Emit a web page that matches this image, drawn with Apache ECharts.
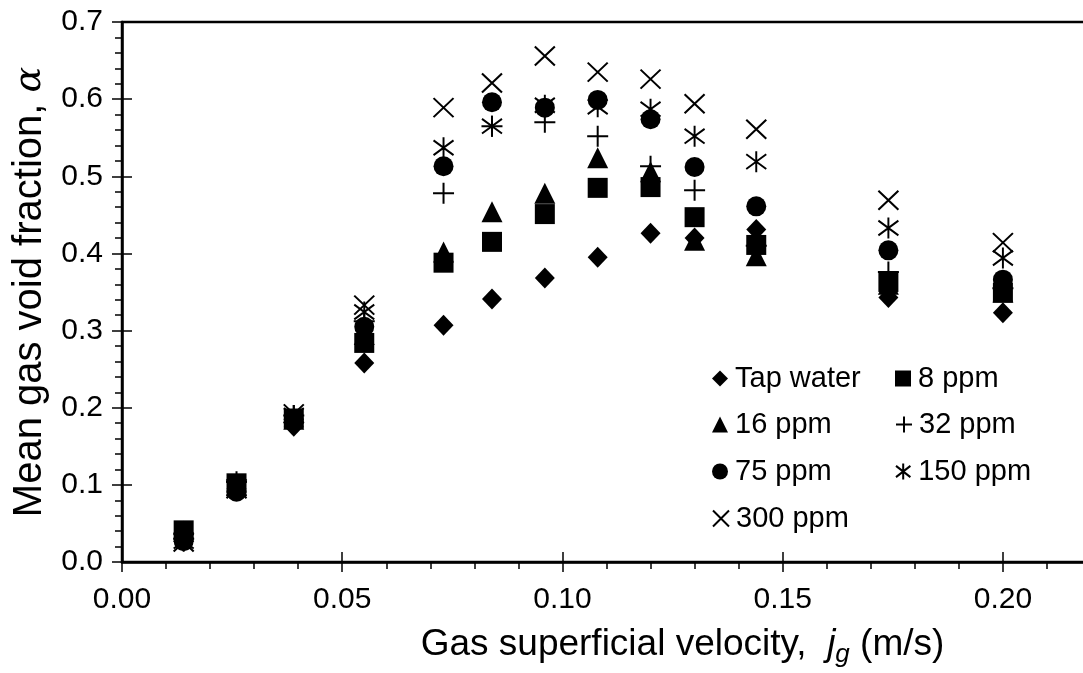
<!DOCTYPE html>
<html>
<head>
<meta charset="utf-8">
<script src="https://cdn.jsdelivr.net/npm/echarts@6/dist/echarts.min.js"></script>
<style>
html,body{margin:0;padding:0;background:#fff;}
#chart{width:1083px;height:673px;}
</style>
</head>
<body>
<div id="chart"></div>
<script>
// Gas superficial velocity j_g (m/s)
const jg = [0.014, 0.026, 0.039, 0.055, 0.073, 0.084, 0.096, 0.108, 0.120, 0.130, 0.144, 0.174, 0.200];
// Mean gas void fraction for each solution
const tapWater = [0.032, 0.095, 0.176, 0.258, 0.307, 0.341, 0.368, 0.395, 0.426, 0.420, 0.431, 0.343, 0.323];
const ppm8     = [0.041, 0.102, 0.186, 0.284, 0.388, 0.415, 0.451, 0.485, 0.486, 0.447, 0.411, 0.363, 0.349];
const ppm16    = [0.040, 0.100, 0.185, 0.295, 0.402, 0.454, 0.478, 0.524, 0.506, 0.417, 0.397, 0.360, 0.350];
const ppm32    = [0.030, 0.104, 0.190, 0.312, 0.478, 0.565, 0.570, 0.552, 0.513, 0.482, 0.410, 0.376, 0.355];
const ppm75    = [0.027, 0.091, 0.185, 0.305, 0.513, 0.596, 0.589, 0.599, 0.574, 0.512, 0.461, 0.404, 0.366];
const ppm150   = [0.027, 0.095, 0.190, 0.324, 0.537, 0.565, 0.592, 0.590, 0.587, 0.552, 0.519, 0.433, 0.394];
const ppm300   = [0.026, 0.095, 0.192, 0.333, 0.589, 0.621, 0.656, 0.635, 0.626, 0.594, 0.561, 0.469, 0.414];

const seriesNames = ['Tap water', '8 ppm', '16 ppm', '32 ppm', '75 ppm', '150 ppm', '300 ppm'];
const seriesData = [tapWater, ppm8, ppm16, ppm32, ppm75, ppm150, ppm300];

const FONT = '"Liberation Sans", Arial, sans-serif';
const PLUS = 'path://M0,10 L20,10 M10,0 L10,20';
const CROSS = 'path://M0,0 L20,20 M20,0 L0,20';
const STAR = 'path://M10,0 L10,20 M1,3 L19,17 M19,3 L1,17';

const symbolDefs = [
  {symbol: 'diamond', size: [20, 21], filled: true},
  {symbol: 'rect', size: [20, 20], filled: true},
  {symbol: 'triangle', size: [21, 21], filled: true},
  {symbol: PLUS, size: [21, 21], filled: false},
  {symbol: 'circle', size: 20, filled: true},
  {symbol: STAR, size: [20, 21], filled: false},
  {symbol: CROSS, size: [20, 19], filled: false}
];

const series = seriesNames.map((name, k) => ({
  name: name,
  type: 'scatter',
  xAxisIndex: 0,
  yAxisIndex: 0,
  symbol: symbolDefs[k].symbol,
  symbolSize: symbolDefs[k].size,
  itemStyle: symbolDefs[k].filled
    ? {color: '#000', opacity: 1}
    : {color: 'rgba(0,0,0,0)', borderColor: '#000', borderWidth: 2, opacity: 1},
  emphasis: {disabled: true},
  data: jg.map((x, i) => [x, seriesData[k][i]])
}));

// legend layout: [name, left, top]
const legendPos = [
  ['Tap water', 712, 364],
  ['8 ppm', 895, 364],
  ['16 ppm', 712, 410],
  ['32 ppm', 895, 410],
  ['75 ppm', 712, 457],
  ['150 ppm', 895, 457],
  ['300 ppm', 712, 504]
];
const legends = legendPos.map(p => ({
  data: [p[0]],
  left: p[1],
  top: p[2],
  orient: 'horizontal',
  itemWidth: 16,
  itemHeight: 16,
  itemGap: 0,
  padding: 0,
  selectedMode: false,
  textStyle: {fontFamily: FONT, fontSize: 29, color: '#000', padding: [0, 0, 0, 2]}
}));

const axisLineStyle = {color: '#000', width: 2.5};
const tickStyle = {color: '#000', width: 1.5};

const option = {
  backgroundColor: '#fff',
  animation: false,
  grid: {left: 122, top: 22, width: 969, height: 540, show: true, borderColor: '#000', borderWidth: 2.5,
         backgroundColor: 'transparent', containLabel: false, outerBoundsMode: 'none'},
  legend: legends,
  xAxis: [
    {
      type: 'value', min: 0, max: 0.22, interval: 0.05, position: 'bottom',
      axisLine: {show: true, onZero: false, lineStyle: axisLineStyle},
      axisTick: {show: true, inside: false, length: 10, lineStyle: tickStyle},
      splitLine: {show: false},
      axisLabel: {show: true, showMaxLabel: false, margin: 23, fontFamily: FONT, fontSize: 30, color: '#000',
        formatter: v => v.toFixed(2)},
      name: '{a|Gas superficial velocity,  }{i|j}{s|g}{a| (m/s)}',
      nameLocation: 'middle',
      nameGap: 60,
      nameTextStyle: {
        padding: [0, 0, 0, 152],
        rich: {
          a: {fontFamily: FONT, fontSize: 37, color: '#000', lineHeight: 46},
          i: {fontFamily: FONT, fontSize: 37, fontStyle: 'italic', color: '#000', lineHeight: 46},
          s: {fontFamily: FONT, fontSize: 26, fontStyle: 'italic', color: '#000', lineHeight: 26, verticalAlign: 'bottom'}
        }
      }
    },
    {
      type: 'value', min: 0, max: 0.22, interval: 0.01, position: 'bottom',
      axisLine: {show: false, onZero: false},
      axisTick: {show: true, inside: false, length: 7, lineStyle: tickStyle},
      axisLabel: {show: false}, splitLine: {show: false}
    },
    {
      type: 'value', min: 0, max: 0.22, interval: 0.05, position: 'bottom',
      axisLine: {show: false, onZero: false},
      axisTick: {show: true, inside: true, length: 10, lineStyle: tickStyle},
      axisLabel: {show: false}, splitLine: {show: false}
    }
  ],
  yAxis: [
    {
      type: 'value', min: 0, max: 0.7, interval: 0.1, position: 'left',
      axisLine: {show: true, onZero: false, lineStyle: axisLineStyle},
      axisTick: {show: true, inside: false, length: 10, lineStyle: tickStyle},
      splitLine: {show: false},
      axisLabel: {show: true, margin: 19, fontFamily: FONT, fontSize: 30, color: '#000',
        formatter: v => v.toFixed(1)},
      name: '{a|Mean gas void fraction, }{g|α}',
      nameLocation: 'middle',
      nameGap: 62,
      nameRotate: 90,
      nameTextStyle: {
        padding: [0, 0, 0, 0],
        rich: {
          a: {fontFamily: FONT, fontSize: 40, color: '#000'},
          g: {fontFamily: '"DejaVu Serif", "Liberation Serif", serif', fontSize: 38, fontStyle: 'italic', color: '#000'}
        }
      }
    },
    {
      type: 'value', min: 0, max: 0.7, interval: 0.02, position: 'left',
      axisLine: {show: false, onZero: false},
      axisTick: {show: true, inside: false, length: 7, lineStyle: tickStyle},
      axisLabel: {show: false}, splitLine: {show: false}
    },
    {
      type: 'value', min: 0, max: 0.7, interval: 0.1, position: 'left',
      axisLine: {show: false, onZero: false},
      axisTick: {show: true, inside: true, length: 10, lineStyle: tickStyle},
      axisLabel: {show: false}, splitLine: {show: false}
    }
  ],
  series: series
};

const chart = echarts.init(document.getElementById('chart'), null, {renderer: 'canvas'});
chart.setOption(option);
</script>
</body>
</html>
